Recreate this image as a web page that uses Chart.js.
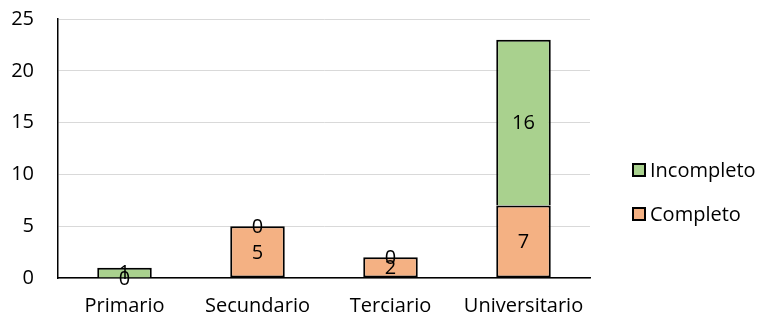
<!DOCTYPE html>
<html>
<head>
<meta charset="utf-8">
<script src="https://cdn.jsdelivr.net/npm/chart.js@4/dist/chart.umd.min.js"></script>
<style>
  html, body { margin: 0; padding: 0; background: #fff; }
  #wrap { width: 766px; height: 320px; }
</style>
</head>
<body>
<div id="wrap"><canvas id="grafico"></canvas></div>
<script>
const niveles = ["Primario", "Secundario", "Terciario", "Universitario"];
const completo = [0, 5, 2, 7];
const incompleto = [1, 0, 0, 16];
const ticksY = [0, 5, 10, 15, 20, 25];

const fuente = "'Open Sans', sans-serif";
const tam = 20;

// numeros en el centro de cada tramo de barra
const etiquetas = {
  id: "etiquetas",
  afterDatasetsDraw(chart) {
    const ctx = chart.ctx;
    ctx.save();
    ctx.font = tam + "px " + fuente;
    ctx.fillStyle = "#000";
    ctx.textAlign = "center";
    ctx.textBaseline = "middle";
    chart.data.datasets.forEach((ds, i) => {
      chart.getDatasetMeta(i).data.forEach((bar, j) => {
        ctx.fillText(String(ds.data[j]), bar.x, (bar.y + bar.base) / 2 + 1);
      });
    });
    ctx.restore();
  }
};

// leyenda a la derecha, Incompleto arriba
const leyenda = {
  id: "leyenda",
  afterDraw(chart) {
    const ctx = chart.ctx;
    const x = chart.chartArea.right + 43;
    ctx.save();
    ctx.font = tam + "px " + fuente;
    ctx.textBaseline = "middle";
    const items = chart.data.datasets.slice().reverse();
    items.forEach((ds, k) => {
      const y = 170 + k * 44;
      ctx.fillStyle = ds.backgroundColor;
      ctx.fillRect(x, y - 6, 12, 12);
      ctx.strokeStyle = "#000";
      ctx.lineWidth = 2;
      ctx.strokeRect(x, y - 6, 12, 12);
      ctx.fillStyle = "#000";
      ctx.fillText(ds.label, x + 17, y + 1);
    });
    ctx.restore();
  }
};

new Chart(document.getElementById("grafico"), {
  type: "bar",
  data: {
    labels: niveles,
    datasets: [
      {
        label: "Completo",
        data: completo,
        backgroundColor: "#F4B183",
        borderColor: "#000",
        borderWidth: 2,
        borderSkipped: false,
        barPercentage: 0.41,
        categoryPercentage: 1
      },
      {
        label: "Incompleto",
        data: incompleto,
        backgroundColor: "#A9D18E",
        borderColor: "#000",
        borderWidth: 2,
        borderSkipped: "start",
        barPercentage: 0.41,
        categoryPercentage: 1
      }
    ]
  },
  options: {
    responsive: true,
    maintainAspectRatio: false,
    animation: false,
    layout: { padding: { top: 19, right: 176, left: 0, bottom: 0 } },
    plugins: {
      legend: { display: false },
      tooltip: { enabled: false }
    },
    scales: {
      x: {
        stacked: true,
        grid: { display: false, drawTicks: false },
        border: { color: "#000", width: 1.5 },
        ticks: { color: "#000", font: { family: fuente, size: tam }, padding: 16 },
        afterFit(axis) {
          axis.height = 42;
        }
      },
      y: {
        stacked: true,
        min: 0,
        max: 25,
        afterBuildTicks(axis) {
          axis.ticks = ticksY.map(v => ({ value: v }));
        },
        afterFit(axis) {
          axis.width = 58;
          axis.paddingTop = 0;
          axis.paddingBottom = 0;
        },
        grid: { color: "#d9d9d9", lineWidth: 1, drawTicks: false },
        border: { color: "#000", width: 1.5 },
        ticks: { color: "#000", font: { family: fuente, size: tam }, padding: 24 }
      }
    }
  },
  plugins: [etiquetas, leyenda]
});
</script>
</body>
</html>
